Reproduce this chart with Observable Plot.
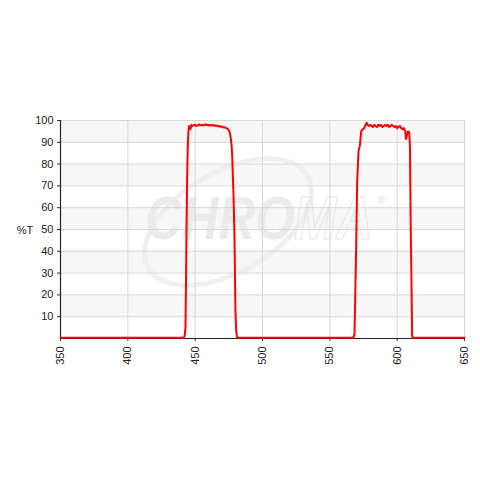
<!DOCTYPE html>
<html>
<head>
<meta charset="utf-8">
<script src="https://cdn.jsdelivr.net/npm/d3@7"></script>
<script src="https://cdn.jsdelivr.net/npm/@observablehq/plot@0.6"></script>
<style>
  html, body { margin: 0; padding: 0; background: #fff; }
  #chart { width: 480px; height: 480px; }
</style>
</head>
<body>
<div id="chart"></div>
<script>
// Wavelength (nm) and transmission (%T)
const wavelength = [
  350, 441.5, 442.3, 442.8, 443.1, 443.5, 444, 444.5, 445, 445.5, 446, 446.5, 447.3, 448, 449,
  450, 451, 452, 453, 454, 455, 456, 457, 458, 459, 460, 461, 462, 463, 464, 465, 466, 467,
  468, 469, 470, 471, 472, 473, 474, 475, 475.7, 476.4, 477, 477.5, 478.5, 479.2, 479.9,
  480.5, 481.2, 482,
  567.5, 568.3, 568.8, 569.5, 570.3, 571.3, 572.3, 573.3, 574.5, 575.5, 576.5, 577.3, 578,
  579, 580, 581, 582, 583, 584, 585, 586, 587, 588, 589, 590, 591, 592, 593, 594, 595, 596,
  597, 598, 599, 600, 601, 602, 603, 604, 605, 606, 606.6, 607.3, 608, 609, 609.5, 610,
  610.6, 611.1, 612, 650
];
const transmission = [
  0.3, 0.3, 1.5, 5, 20, 45, 72, 88, 95, 97.5, 97, 96, 98, 97.5, 97.8,
  98, 97.5, 97.8, 98.2, 97.8, 98, 97.7, 98, 98.3, 97.8, 98, 97.6, 98, 97.7, 97.9, 97.5, 97.7, 97.3,
  97.5, 97.1, 97.2, 96.8, 96.9, 96.5, 96.3, 95.5, 94.5, 92, 89, 84, 65, 46, 13,
  3, 0.4, 0.3,
  0.3, 2, 17, 40, 72, 86, 88.5, 95, 96, 96.5, 98, 99, 98,
  97.5, 98, 97.5, 97, 98, 97.5, 97, 98, 97.5, 98, 97, 97.5, 98, 97.5, 98, 97, 97.5, 98,
  97.5, 97, 97.5, 96.5, 97, 97.5, 96.5, 96, 96.5, 95, 91.5, 93.5, 95, 94.5, 88, 55,
  27, 1, 0.3, 0.3
];
const xTicks = [350, 400, 450, 500, 550, 600, 650];
const yTicks = [10, 20, 30, 40, 50, 60, 70, 80, 90, 100];
const bandLow = [90, 70, 50, 30, 10];
const bandHigh = [100, 80, 60, 40, 20];
const yLabel = "%T";

const data = wavelength.map((w, i) => ({w, t: transmission[i]}));
const bands = bandLow.map((lo, i) => ({lo, hi: bandHigh[i]}));

const font = "Liberation Sans, Arial, sans-serif";

const plot = Plot.plot({
  width: 480,
  height: 480,
  marginLeft: 60,
  marginRight: 16,
  marginTop: 120,
  marginBottom: 142,
  style: {fontFamily: font, fontSize: "11px", color: "#222", background: "#fff"},
  x: {domain: [350, 650], ticks: xTicks, label: null},
  y: {domain: [0, 100], ticks: yTicks, label: null},
  marks: [
    Plot.rect(bands, {y1: "lo", y2: "hi", fill: "#f7f7f7"}),
    Plot.gridX(xTicks, {stroke: "#d8d8d8", strokeOpacity: 1}),
    Plot.gridY(yTicks, {stroke: "#d8d8d8", strokeOpacity: 1}),
    Plot.axisY(yTicks, {tickSize: 3, tickPadding: 4, fontSize: 11, stroke: "#333", fill: "#222"}),
    Plot.axisX(xTicks, {tickSize: 3, tickPadding: 5, tickRotate: -90, fontSize: 11, stroke: "#333", fill: "#222"}),
    Plot.ruleX([350], {stroke: "#222", strokeWidth: 1.2}),
    Plot.ruleY([0], {stroke: "#222", strokeWidth: 1.2}),
    Plot.line(data, {x: "w", y: "t", stroke: "#ff0000", strokeWidth: 2})
  ]
});

// watermark logo (decoration) and y label
const svg = d3.select(plot);
const g = svg.append("g").attr("aria-label", "watermark").attr("text-anchor", "start");
g.append("ellipse")
  .attr("cx", 228).attr("cy", 222).attr("rx", 92).attr("ry", 50)
  .attr("transform", "rotate(-30 228 222)")
  .attr("fill", "none").attr("stroke", "#efefef").attr("stroke-width", 5);
g.append("text")
  .attr("transform", "translate(145,239) scale(0.82,1)")
  .attr("font-family", font).attr("font-style", "italic").attr("font-weight", "bold")
  .attr("font-size", 62).attr("fill", "#ebebeb")
  .text("CHRO");
g.append("text")
  .attr("transform", "translate(294,239) scale(0.82,1)")
  .attr("font-family", font).attr("font-style", "italic").attr("font-weight", "bold")
  .attr("font-size", 62).attr("fill", "none").attr("stroke", "#e6e6e6").attr("stroke-width", 1.2)
  .text("MA");
g.append("text")
  .attr("x", 378).attr("y", 204)
  .attr("font-family", font).attr("font-size", 11).attr("fill", "#e4e4e4")
  .text("®");
// place watermark right after the band rects
const rects = plot.querySelector("g[aria-label='rect']");
if (rects) rects.after(g.node());

svg.append("text")
  .attr("x", 25).attr("y", 234)
  .attr("text-anchor", "middle")
  .attr("font-family", font).attr("font-size", 11).attr("fill", "#222")
  .text(yLabel);

document.getElementById("chart").appendChild(plot);
</script>
</body>
</html>
